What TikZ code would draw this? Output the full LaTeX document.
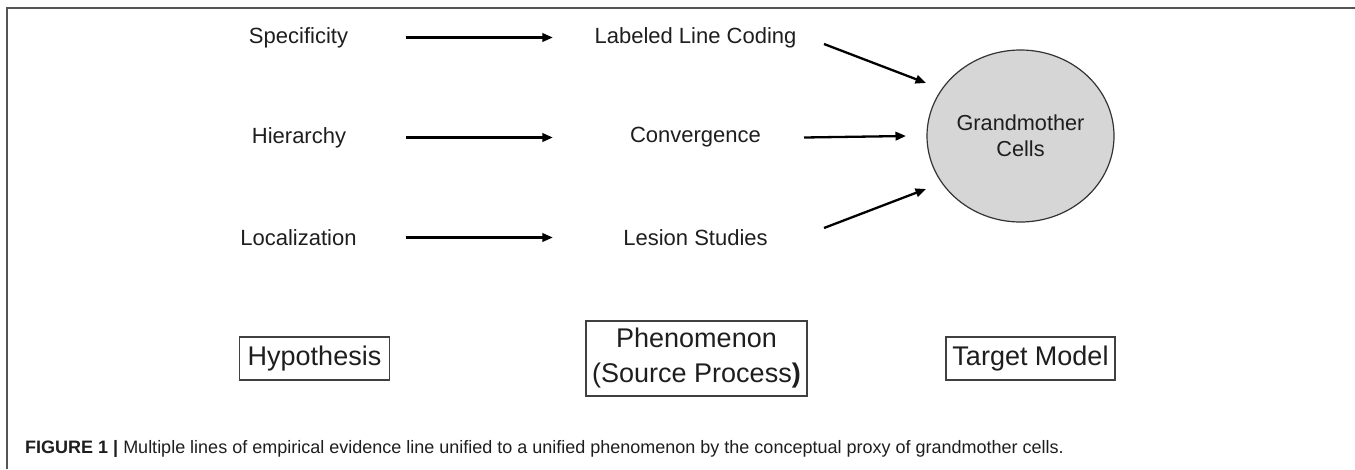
\documentclass[tikz,border=0pt]{standalone}
\usepackage{fontspec}
\setmainfont{Liberation Sans}
\usetikzlibrary{arrows.meta,shapes.geometric,calc}
\definecolor{framegray}{HTML}{555555}
\definecolor{cellfill}{HTML}{D6D6D6}
\definecolor{txt}{HTML}{1E1E1E}
\tikzset{
  lbl/.style={inner sep=0pt, text=txt, font=\fontsize{22}{26}\selectfont},
  leftlbl/.style={lbl, minimum width=214pt},
  midlbl/.style={lbl, minimum width=285pt},
  arr/.style={line width=2.3pt, -{Triangle[length=10.5pt,width=8.5pt]}},
  cell/.style={ellipse, draw=black!80, line width=1.2pt, fill=cellfill, minimum width=187pt, minimum height=172pt, inner sep=0pt, align=center, text=txt, font=\fontsize{21.7}{25.7}\selectfont},
  boxlbl/.style={draw=black!75, line width=1.1pt, inner sep=0pt, align=center, text=txt, font=\fontsize{27}{35}\selectfont},
  frameline/.style={draw=framegray, line width=2pt}
}
\begin{document}
\begin{tikzpicture}[x=1pt,y=-1pt]
\useasboundingbox (0,0) rectangle (1355,469);
\draw[frameline] (1355,8) -- (7,8) -- (7,469);

\node[leftlbl] (spec) at (298.5,37.5) {Specificity};
\node[leftlbl] (hier) at (299,137.5) {Hierarchy};
\node[leftlbl] (loc) at (298.5,237.5) {Localization};
\node[midlbl] (llc) at (695.5,37.5) {Labeled Line Coding};
\node[midlbl] (conv) at (695.5,137.5) {Convergence};
\node[midlbl] (les) at (695.5,237.5) {Lesion Studies};
\node[cell] (gm) at (1020.5,136) {Grandmother\\Cells};

\draw[arr] (spec) -- (llc);
\draw[arr] (hier) -- (conv);
\draw[arr] (loc) -- (les);
\draw[arr] ($(llc.center)+(128.5,6.5)$) -- ($(gm.center)+(-94.5,-53)$);
\draw[arr] ($(conv.center)+(108.5,0)$) -- ($(gm.center)+(-114.5,0)$);
\draw[arr] ($(les.center)+(128.5,-9.5)$) -- ($(gm.center)+(-94.5,53)$);

\node[boxlbl, minimum width=150pt, minimum height=43pt] (hyp) at (314.5,358.5) {Hypothesis};
\node[boxlbl, minimum width=221pt, minimum height=75pt] (phen) at (696.5,358.5) {Phenomenon\\(Source Process\textbf{)}};
\node[boxlbl, minimum width=169pt, minimum height=43pt] (tm) at (1030.5,358.5) {Target Model};

\node[anchor=west, inner sep=0pt, text=txt, font=\fontsize{18}{21}\selectfont] (cap) at (25,448.5)
  {\textbf{FIGURE 1 |} Multiple lines of empirical evidence line unified to a unified phenomenon by the conceptual proxy of grandmother cells.};
\end{tikzpicture}
\end{document}
